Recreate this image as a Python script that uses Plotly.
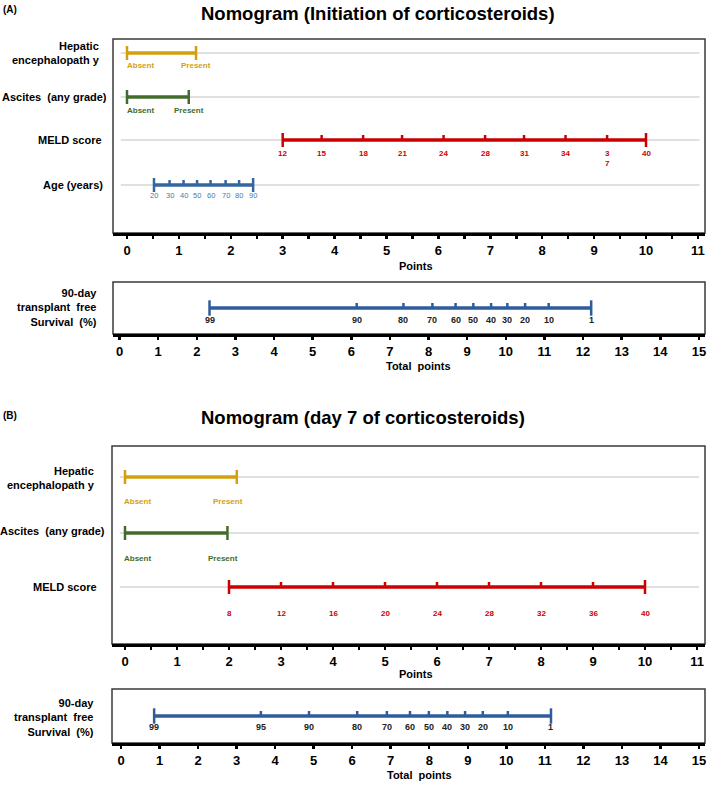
import plotly.graph_objects as go

W, H = 709, 786
FONT = "Liberation Sans, Arial, sans-serif"

# ---------------- data ----------------
points_ticks_top = list(range(0, 12))      # Points axis 0..11
points_ticks_total = list(range(0, 16))    # Total points axis 0..15
binary_labels = ["Absent", "Present"]

# Panel A: initiation of corticosteroids
he_pts_A = [0.0, 1.33]
asc_pts_A = [0.0, 1.19]
meld_vals_A = [12, 15, 18, 21, 24, 28, 31, 34, 37, 40]
meld_pts_A = [3.0, 3.75, 4.55, 5.3, 6.1, 6.9, 7.65, 8.45, 9.25, 10.0]
age_vals_A = [20, 30, 40, 50, 60, 70, 80, 90]
age_pts_A = [0.52, 0.82, 1.09, 1.35, 1.61, 1.90, 2.16, 2.43]
surv_vals_A = [99, 90, 80, 70, 60, 50, 40, 30, 20, 10, 1]
surv_pts_A = [2.33, 6.14, 7.35, 8.10, 8.70, 9.16, 9.62, 10.04, 10.50, 11.11, 12.21]

# Panel B: day 7 of corticosteroids
he_pts_B = [0.0, 2.15]
asc_pts_B = [0.0, 1.97]
meld_vals_B = [8, 12, 16, 20, 24, 28, 32, 36, 40]
meld_pts_B = [2.0, 3.0, 4.0, 5.0, 6.0, 7.0, 8.0, 9.0, 10.0]
surv_vals_B = [99, 95, 90, 80, 70, 60, 50, 40, 30, 20, 10, 1]
surv_pts_B = [0.86, 3.63, 4.88, 6.13, 6.90, 7.50, 7.99, 8.47, 8.93, 9.39, 10.04, 11.16]

# ---------------- styling / layout constants ----------------
C_HE = "#D49F0F"
C_ASC = "#436B2B"
C_MELD = "#CC0000"
C_AGE = "#3566A2"
C_AGE_TXT = "#4A78B0"
C_SURV = "#2F5C9C"
C_GRID = "#D6D6D6"
C_BOX = "#3A3A3A"

# panel boxes in pixels: (x0, x1, y0, y1), origin pixel of 0, pixels per unit
panels = {
    "1": dict(box=(113, 705, 39, 233), origin=127.0, ppu=51.9, ticks=points_ticks_top, minor=True),
    "2": dict(box=(113, 705, 282, 334), origin=119.5, ppu=38.63, ticks=points_ticks_total, minor=False),
    "3": dict(box=(112, 705, 446, 644), origin=125.0, ppu=52.0, ticks=points_ticks_top, minor=True),
    "4": dict(box=(112, 705, 689, 743), origin=121.0, ppu=38.53, ticks=points_ticks_total, minor=False),
}

fig = go.Figure()
layout = dict(
    width=W, height=H, margin=dict(l=0, r=0, t=0, b=0),
    paper_bgcolor="white", plot_bgcolor="rgba(0,0,0,0)",
    showlegend=False, font=dict(family=FONT),
)
shapes, annotations = [], []


def axname(k, kind):
    return kind if k == "1" else f"{kind}{k}"


for k, p in panels.items():
    x0, x1, y0, y1 = p["box"]
    tv = p["ticks"]
    xa = dict(
        domain=[x0 / W, x1 / W],
        range=[(x0 - p["origin"]) / p["ppu"], (x1 - p["origin"]) / p["ppu"]],
        showgrid=False, zeroline=False, showline=True, linecolor="black", linewidth=3,
        ticks="outside", ticklen=3, tickwidth=2.5, tickcolor="black",
        tickvals=tv, ticktext=[f"<b>{v}</b>" for v in tv],
        tickfont=dict(size=13, family=FONT, color="black"),
        anchor=axname(k, "y"), fixedrange=True,
    )
    if p["minor"]:
        xa["minor"] = dict(tickvals=[v + 0.5 for v in tv[:-1]], ticks="outside",
                           ticklen=3, tickwidth=2.5, tickcolor="black")
    ya = dict(domain=[1 - y1 / H, 1 - y0 / H], range=[y1, y0], visible=False,
              anchor=axname(k, "x"), fixedrange=True)
    layout[axname(k, "xaxis")] = xa
    layout[axname(k, "yaxis")] = ya
    shapes.append(dict(type="rect", xref=axname(k, "x") + " domain", yref=axname(k, "y") + " domain",
                       x0=0, x1=1, y0=0, y1=1, line=dict(color=C_BOX, width=1.5), layer="below"))


def grid(k, row, xs=(-0.12, 11.03)):
    shapes.append(dict(type="line", xref=axname(k, "x"), yref=axname(k, "y"),
                       x0=xs[0], x1=xs[1], y0=row, y1=row,
                       line=dict(color=C_GRID, width=1.5), layer="below"))


def scale(k, pts, row, color, lw=3.5, cap=10, tick_h=5, tick_w=2.5):
    xa, ya = axname(k, "x"), axname(k, "y")
    fig.add_trace(go.Scatter(x=[min(pts), max(pts)], y=[row, row], mode="lines",
                             line=dict(color=color, width=lw), xaxis=xa, yaxis=ya,
                             hoverinfo="skip"))
    mids = pts[1:-1]
    if mids:
        tx, ty = [], []
        for v in mids:
            tx += [v, v, None]
            ty += [row, row - tick_h, None]
        fig.add_trace(go.Scatter(x=tx, y=ty, mode="lines", line=dict(color=color, width=tick_w),
                                 xaxis=xa, yaxis=ya, hoverinfo="skip"))
    fig.add_trace(go.Scatter(x=[pts[0], pts[-1]], y=[row, row], mode="markers",
                             marker=dict(symbol="line-ns", size=cap,
                                         line=dict(color=color, width=2.5)),
                             xaxis=xa, yaxis=ya, hoverinfo="skip"))


def labels(k, pts, texts, row, off, color, size, bold=True, anchors=None, shifts=None):
    for i, (v, t) in enumerate(zip(pts, texts)):
        s = str(t)
        if bold:
            s = f"<b>{s}</b>"
        annotations.append(dict(
            x=v, y=row + off, xref=axname(k, "x"), yref=axname(k, "y"),
            text=s, showarrow=False, yanchor="top",
            xanchor=anchors[i] if anchors else "center",
            xshift=shifts[i] if shifts else 0,
            font=dict(size=size, color=color, family=FONT), borderpad=0,
        ))


def left_label(text, xr, yc, size=11):
    annotations.append(dict(x=xr / W, y=1 - yc / H, xref="paper", yref="paper",
                            text=f"<b>{text}</b>", showarrow=False, xanchor="right",
                            yanchor="middle", align="right",
                            font=dict(size=size, color="black", family=FONT)))


def paper_text(text, x, y, size, xanchor="left"):
    annotations.append(dict(x=x / W, y=1 - y / H, xref="paper", yref="paper",
                            text=text, showarrow=False, xanchor=xanchor, yanchor="middle",
                            font=dict(size=size, color="black", family=FONT)))


# ---------------- Panel A ----------------
rows_A = [53, 97, 140, 185]
for r in rows_A:
    grid("1", r)
scale("1", he_pts_A, rows_A[0], C_HE)
scale("1", asc_pts_A, rows_A[1], C_ASC)
scale("1", meld_pts_A, rows_A[2], C_MELD)
scale("1", age_pts_A, rows_A[3], C_AGE)
labels("1", he_pts_A, binary_labels, rows_A[0], 7, C_HE, 8, anchors=["left", "center"], shifts=[-1, 0])
labels("1", asc_pts_A, binary_labels, rows_A[1], 8, C_ASC, 8, anchors=["left", "center"], shifts=[-1, 0])
meld_txt_A = [("<br>".join(str(v)) if v == 37 else v) for v in meld_vals_A]
labels("1", meld_pts_A, meld_txt_A, rows_A[2], 8, C_MELD, 8)
labels("1", age_pts_A, age_vals_A, rows_A[3], 5, C_AGE_TXT, 7.5, bold=False)

left_label("Hepatic<br>encephalopath y", 102, 53)
left_label("Ascites\u00a0\u00a0(any grade)", 109, 97)
left_label("MELD score", 104, 140)
left_label("Age (years)", 105, 185)

scale("2", surv_pts_A, 308, C_SURV, cap=11)
labels("2", surv_pts_A, surv_vals_A, 308, 6, "#222222", 9)
left_label("90-day<br>transplant\u00a0\u00a0free<br>Survival\u00a0\u00a0(%)", 99, 307)

paper_text("<b>(A)</b>", 1, 10, 10)
paper_text("<b>Nomogram (Initiation of corticosteroids)</b>", 199, 13, 18.5)
paper_text("<b>Points</b>", 416, 266, 11, "center")
paper_text("<b>Total\u00a0\u00a0points</b>", 418, 366, 11, "center")

# ---------------- Panel B ----------------
rows_B = [477, 533, 587]
for r in rows_B:
    grid("3", r, (-0.1, 11.04))
scale("3", he_pts_B, rows_B[0], C_HE)
scale("3", asc_pts_B, rows_B[1], C_ASC)
scale("3", meld_pts_B, rows_B[2], C_MELD)
labels("3", he_pts_B, binary_labels, rows_B[0], 19, C_HE, 8, anchors=["left", "center"], shifts=[-2, -9])
labels("3", asc_pts_B, binary_labels, rows_B[1], 20, C_ASC, 8, anchors=["left", "center"], shifts=[-2, -4])
labels("3", meld_pts_B, meld_vals_B, rows_B[2], 21, C_MELD, 8)

left_label("Hepatic<br>encephalopath y", 97, 478)
left_label("Ascites\u00a0\u00a0(any grade)", 107, 531)
left_label("MELD score", 99, 587)

scale("4", surv_pts_B, 716, C_SURV, cap=11)
labels("4", surv_pts_B, surv_vals_B, 716, 5, "#222222", 9)
left_label("90-day<br>transplant\u00a0\u00a0free<br>Survival\u00a0\u00a0(%)", 96, 717)

paper_text("<b>(B)</b>", 1, 416, 10)
paper_text("<b>Nomogram (day 7 of corticosteroids)</b>", 199, 417, 18.5)
paper_text("<b>Points</b>", 416, 674, 11, "center")
paper_text("<b>Total\u00a0\u00a0points</b>", 419, 775, 11, "center")

layout["shapes"] = shapes
layout["annotations"] = annotations
fig.update_layout(**layout)
fig.write_html(
    "out.html",
    config={"displayModeBar": False, "staticPlot": True},
    post_script="document.body.style.margin='0px';document.body.style.overflow='hidden';",
)
